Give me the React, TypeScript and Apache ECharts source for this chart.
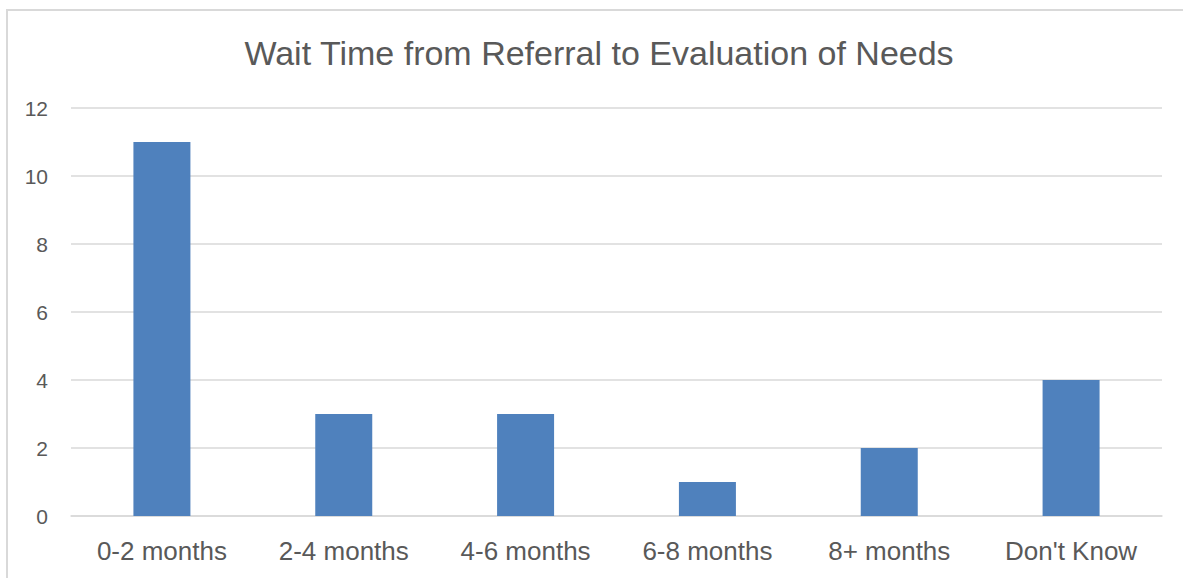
import React, { useEffect, useRef } from "react";
import * as echarts from "echarts";

const categories = ["0-2 months", "2-4 months", "4-6 months", "6-8 months", "8+ months", "Don't Know"];
const counts = [11, 3, 3, 1, 2, 4];
const titleText = "Wait Time from Referral to Evaluation of Needs";

export default function App() {
  const ref = useRef<HTMLDivElement>(null);
  useEffect(() => {
    if (!ref.current) return;
    const chart = echarts.init(ref.current, null, { renderer: "svg" });
    const font = "'Liberation Sans', Arial, sans-serif";
    chart.setOption({
      animation: false,
      backgroundColor: "#ffffff",
      textStyle: { fontFamily: font },
      graphic: [
        {
          type: "rect",
          shape: { x: 7, y: 10, width: 1300, height: 700 },
          style: { fill: "none", stroke: "#d9d9d9", lineWidth: 2 },
          silent: true,
        },
        {
          type: "text",
          x: 599,
          y: 53,
          style: {
            text: titleText,
            fontFamily: font,
            fontSize: 34,
            fill: "#595959",
            align: "center",
            verticalAlign: "middle",
          },
        },
      ],
      grid: { left: 71, right: 21, top: 108, bottom: 62, containLabel: false },
      xAxis: {
        type: "category",
        data: categories,
        axisLine: { show: true, lineStyle: { color: "#d9d9d9", width: 1.5 } },
        axisTick: { show: false },
        axisLabel: { color: "#595959", fontSize: 26, margin: 22, fontFamily: font },
      },
      yAxis: {
        type: "value",
        min: 0,
        max: 12,
        interval: 2,
        axisLine: { show: false },
        axisTick: { show: false },
        splitLine: { lineStyle: { color: "#d9d9d9", width: 1.5 } },
        axisLabel: { color: "#595959", fontSize: 21, margin: 23, fontFamily: font },
      },
      series: [
        {
          type: "bar",
          data: counts,
          barWidth: 57,
          itemStyle: { color: "#4f81bd" },
        },
      ],
    });
    return () => chart.dispose();
  }, []);
  return (
    <div
      ref={ref}
      style={{ position: "fixed", left: 0, top: 0, width: 1183, height: 578 }}
    />
  );
}
